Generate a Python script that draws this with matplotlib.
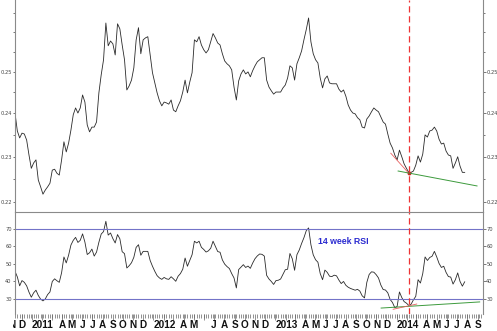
import matplotlib
matplotlib.use('Agg')
import matplotlib.pyplot as plt
import matplotlib.dates as mdates
from matplotlib.ticker import FixedLocator, NullFormatter
from matplotlib.transforms import Bbox, TransformedBbox, blended_transform_factory
import pandas as pd

# weekly closes (log scale panel)
price = [
    0.2401, 0.2359, 0.2343, 0.2354, 0.2352, 0.2338, 0.2304, 0.2274, 0.2286, 0.2293,
    0.2248, 0.2233, 0.2217, 0.2226, 0.2233, 0.2241, 0.2270, 0.2272, 0.2263, 0.2259,
    0.2293, 0.2334, 0.2311, 0.2331, 0.2361, 0.2397, 0.2413, 0.2401, 0.2413, 0.2444,
    0.2427, 0.2373, 0.2357, 0.2368, 0.2368, 0.2380, 0.2449, 0.2493, 0.2530, 0.2623,
    0.2565, 0.2577, 0.2570, 0.2542, 0.2621, 0.2608, 0.2567, 0.2530, 0.2456, 0.2466,
    0.2480, 0.2510, 0.2580, 0.2611, 0.2545, 0.2580, 0.2585, 0.2588, 0.2542, 0.2498,
    0.2473, 0.2449, 0.2430, 0.2418, 0.2427, 0.2425, 0.2422, 0.2432, 0.2408, 0.2404,
    0.2418, 0.2430, 0.2451, 0.2480, 0.2449, 0.2475, 0.2498, 0.2580, 0.2575, 0.2588,
    0.2567, 0.2555, 0.2547, 0.2555, 0.2575, 0.2596, 0.2585, 0.2572, 0.2567, 0.2545,
    0.2527, 0.2520, 0.2515, 0.2505, 0.2463, 0.2432, 0.2478, 0.2495, 0.2505, 0.2495,
    0.2500, 0.2488, 0.2503, 0.2515, 0.2525, 0.2530, 0.2535, 0.2535, 0.2480, 0.2463,
    0.2454, 0.2446, 0.2451, 0.2451, 0.2451, 0.2461, 0.2468, 0.2485, 0.2515, 0.2510,
    0.2480, 0.2520, 0.2535, 0.2552, 0.2580, 0.2606, 0.2636, 0.2575, 0.2545, 0.2530,
    0.2522, 0.2485, 0.2461, 0.2483, 0.2490, 0.2473, 0.2471, 0.2471, 0.2471, 0.2458,
    0.2451, 0.2456, 0.2441, 0.2420, 0.2408, 0.2401, 0.2399, 0.2390, 0.2385, 0.2368,
    0.2366, 0.2387, 0.2394, 0.2404, 0.2413, 0.2408, 0.2404, 0.2392, 0.2380, 0.2375,
    0.2352, 0.2331, 0.2320, 0.2304, 0.2293, 0.2315, 0.2300, 0.2284, 0.2274, 0.2265,
    0.2265, 0.2268, 0.2281, 0.2302, 0.2288, 0.2306, 0.2350, 0.2345, 0.2359, 0.2361,
    0.2368, 0.2359, 0.2340, 0.2329, 0.2331, 0.2313, 0.2304, 0.2302, 0.2274, 0.2286,
    0.2300, 0.2279, 0.2265, 0.2265,
]

# 14 week RSI
rsi = [
    45.8, 42.6, 37.5, 40.5, 39.5, 37.5, 33.9, 31.0, 33.5, 35.0,
    32.0, 29.9, 28.9, 30.0, 32.5, 34.0, 40.0, 41.5, 40.4, 39.5,
    45.0, 54.0, 50.6, 55.0, 60.8, 63.5, 65.2, 62.3, 63.5, 67.2,
    62.5, 55.4, 56.4, 58.5, 54.5, 56.8, 62.4, 67.1, 68.5, 74.4,
    66.5, 67.7, 64.5, 62.0, 66.8, 64.4, 57.0, 55.9, 47.7, 49.0,
    50.7, 53.8, 59.5, 61.0, 55.0, 57.2, 57.2, 57.2, 52.0, 48.7,
    45.8, 43.3, 42.0, 41.2, 42.3, 41.5, 41.2, 42.7, 41.5, 40.1,
    43.0, 44.5, 47.0, 53.4, 48.7, 52.0, 55.3, 63.0, 62.0, 63.0,
    59.5, 58.3, 56.8, 57.5, 59.0, 63.0, 60.0, 57.1, 56.7, 52.3,
    49.9, 48.5, 47.4, 44.5, 42.0, 36.3, 46.8, 48.2, 49.6, 48.0,
    48.8, 47.5, 50.5, 53.0, 54.6, 55.7, 55.5, 54.5, 43.5, 41.4,
    40.0, 38.3, 40.5, 40.7, 41.4, 44.0, 46.7, 47.0, 56.0, 53.0,
    46.4, 55.3, 58.0, 61.7, 65.0, 69.0, 70.6, 61.0, 55.2, 52.4,
    51.0, 44.5, 41.0, 46.5, 45.2, 43.0, 42.8, 43.6, 43.2, 40.8,
    38.8, 40.0, 37.8, 36.7, 36.0, 35.5, 35.0, 35.5, 34.5, 31.8,
    30.6, 39.5, 44.0, 45.5, 45.3, 43.9, 42.0, 38.0, 35.4, 35.1,
    33.5, 29.7, 28.0, 25.0, 25.7, 34.0, 30.8, 28.5, 27.6, 26.3,
    27.0, 29.5, 31.5, 41.0, 39.1, 44.5, 54.0, 52.0, 53.7, 54.4,
    57.2, 54.0, 50.3, 48.0, 48.7, 45.2, 42.8, 42.5, 38.5, 41.0,
    44.9, 40.0, 37.3, 39.8,
]

weeks = pd.date_range('2010-11-11', periods=len(price), freq='7D')

price_ticks = [0.22, 0.23, 0.24, 0.25]
price_minor = [0.225, 0.235, 0.245, 0.255, 0.26, 0.265]
rsi_ticks = [30, 40, 50, 60, 70]
rsi_levels = [30, 70]

# month labels as on the original (some months skipped)
month_labels = [
    ('2010-11-01', 'N'), ('2010-12-01', 'D'), ('2011-01-01', '2011'),
    ('2011-04-01', 'A'), ('2011-05-01', 'M'), ('2011-06-01', 'J'), ('2011-07-01', 'J'),
    ('2011-08-01', 'A'), ('2011-09-01', 'S'), ('2011-10-01', 'O'), ('2011-11-01', 'N'),
    ('2011-12-01', 'D'), ('2012-01-01', '2012'), ('2012-04-01', 'A'), ('2012-05-01', 'M'),
    ('2012-07-01', 'J'), ('2012-08-01', 'A'), ('2012-09-01', 'S'), ('2012-10-01', 'O'),
    ('2012-11-01', 'N'), ('2012-12-01', 'D'), ('2013-01-01', '2013'), ('2013-04-01', 'A'),
    ('2013-05-01', 'M'), ('2013-06-01', 'J'), ('2013-07-01', 'J'), ('2013-08-01', 'A'),
    ('2013-09-01', 'S'), ('2013-10-01', 'O'), ('2013-11-01', 'N'), ('2013-12-01', 'D'),
    ('2014-01-01', '2014'), ('2014-04-01', 'A'), ('2014-05-01', 'M'), ('2014-06-01', 'J'),
    ('2014-07-01', 'J'), ('2014-08-01', 'A'), ('2014-09-01', 'S'),
]

signal_date = '2014-02-07'
price_red = (['2013-12-14', '2014-02-06'], [0.2308, 0.2263])
price_green = (['2014-01-05', '2014-08-30'], [0.2268, 0.2235])
rsi_red = (['2013-12-21', '2014-03-02'], [24.1, 27.1])
rsi_green = (['2013-11-15', '2014-09-07'], [24.8, 28.3])

W, H = 497, 331
fig = plt.figure(figsize=(W / 100, H / 100), dpi=100)
L, R = 15 / W, 483 / W
ax = fig.add_axes([L, 119 / H, R - L, 212 / H])
ax2 = fig.add_axes([L, 17 / H, R - L, 102 / H], sharex=ax)

spine_col = '#8a8a8a'
tick_col = '#444444'
line_col = '#2a2a2a'

ax.plot(weeks, price, color=line_col, lw=0.6)
ax.set_yscale('log')
ax.set_ylim(0.21785, 0.2683)
ax.yaxis.set_major_locator(FixedLocator(price_ticks))
ax.yaxis.set_minor_locator(FixedLocator(price_minor))
ax.yaxis.set_minor_formatter(NullFormatter())
ax.set_yticklabels([f'{t:.2f}' for t in price_ticks])

d = [pd.Timestamp(s) for s in price_red[0]]
ax.plot(d, price_red[1], color='#e86060', lw=0.6)
ax.plot(d[-1], price_red[1][-1], 'o', color='#cc2020', ms=1.8)
ax.plot([pd.Timestamp(s) for s in price_green[0]], price_green[1], color='#3c9a3c', lw=0.7)

ax2.plot(weeks, rsi, color=line_col, lw=0.6)
ax2.set_ylim(21.4, 79.7)
ax2.set_yticks(rsi_ticks)
for lv in rsi_levels:
    ax2.axhline(lv, color='#7373c8', lw=0.8)
ax2.plot([pd.Timestamp(s) for s in rsi_green[0]], rsi_green[1], color='#3c9a3c', lw=0.7)
ax2.plot([pd.Timestamp(s) for s in rsi_red[0]], rsi_red[1], color='#e86060', lw=0.6)
ax2.text(pd.Timestamp('2013-05-10'), 62.6, '14 week RSI', color='#2b2bd0',
         fontsize=6.3, fontweight='bold', family='Liberation Sans', va='center')

for a in (ax, ax2):
    a.axvline(pd.Timestamp(signal_date), color='#ee3333', lw=0.9, dashes=(5, 3))
    for s in ('left', 'right'):
        a.spines[s].set_color(spine_col)
        a.spines[s].set_linewidth(0.8)
    a.spines['bottom'].set_visible(False)
    a.tick_params(axis='y', which='both', direction='out', colors=tick_col,
                  labelsize=3.7, pad=0.5, left=True, right=True,
                  labelleft=True, labelright=True, width=0.5)
    a.tick_params(axis='y', which='major', length=1.8)
    a.tick_params(axis='y', which='minor', length=1.4)
ax.spines['top'].set_visible(False)
ax2.spines['top'].set_color(spine_col)
ax2.spines['top'].set_linewidth(0.8)

ax.set_xlim(pd.Timestamp('2010-11-11'), pd.Timestamp('2014-09-17'))
ax.tick_params(axis='x', which='both', bottom=False, labelbottom=False)
ax2.xaxis.set_major_locator(mdates.MonthLocator())
ax2.xaxis.set_minor_locator(FixedLocator(mdates.date2num(
    pd.date_range('2010-11-11', '2014-09-17', freq='7D'))))
ax2.tick_params(axis='x', which='both', direction='out', colors='#666666',
                labelbottom=False, width=0.5)
ax2.tick_params(axis='x', which='major', length=4.5)
ax2.tick_params(axis='x', which='minor', length=3)

trans = blended_transform_factory(ax2.transData, ax2.transAxes)
clip = TransformedBbox(Bbox.from_extents(12.5 / W, 0, 1, 1), fig.transFigure)
for ds, txt in month_labels:
    year = txt.isdigit()
    t = ax2.text(pd.Timestamp(ds), -10.5 / 102, txt, transform=trans,
                 ha='left' if year else 'center', va='center',
                 fontsize=7.2, fontweight='bold', family='Liberation Sans',
                 color='#111111')
    t.set_clip_box(clip)
    t.set_clip_on(True)

fig.savefig('out.png', dpi=100)
